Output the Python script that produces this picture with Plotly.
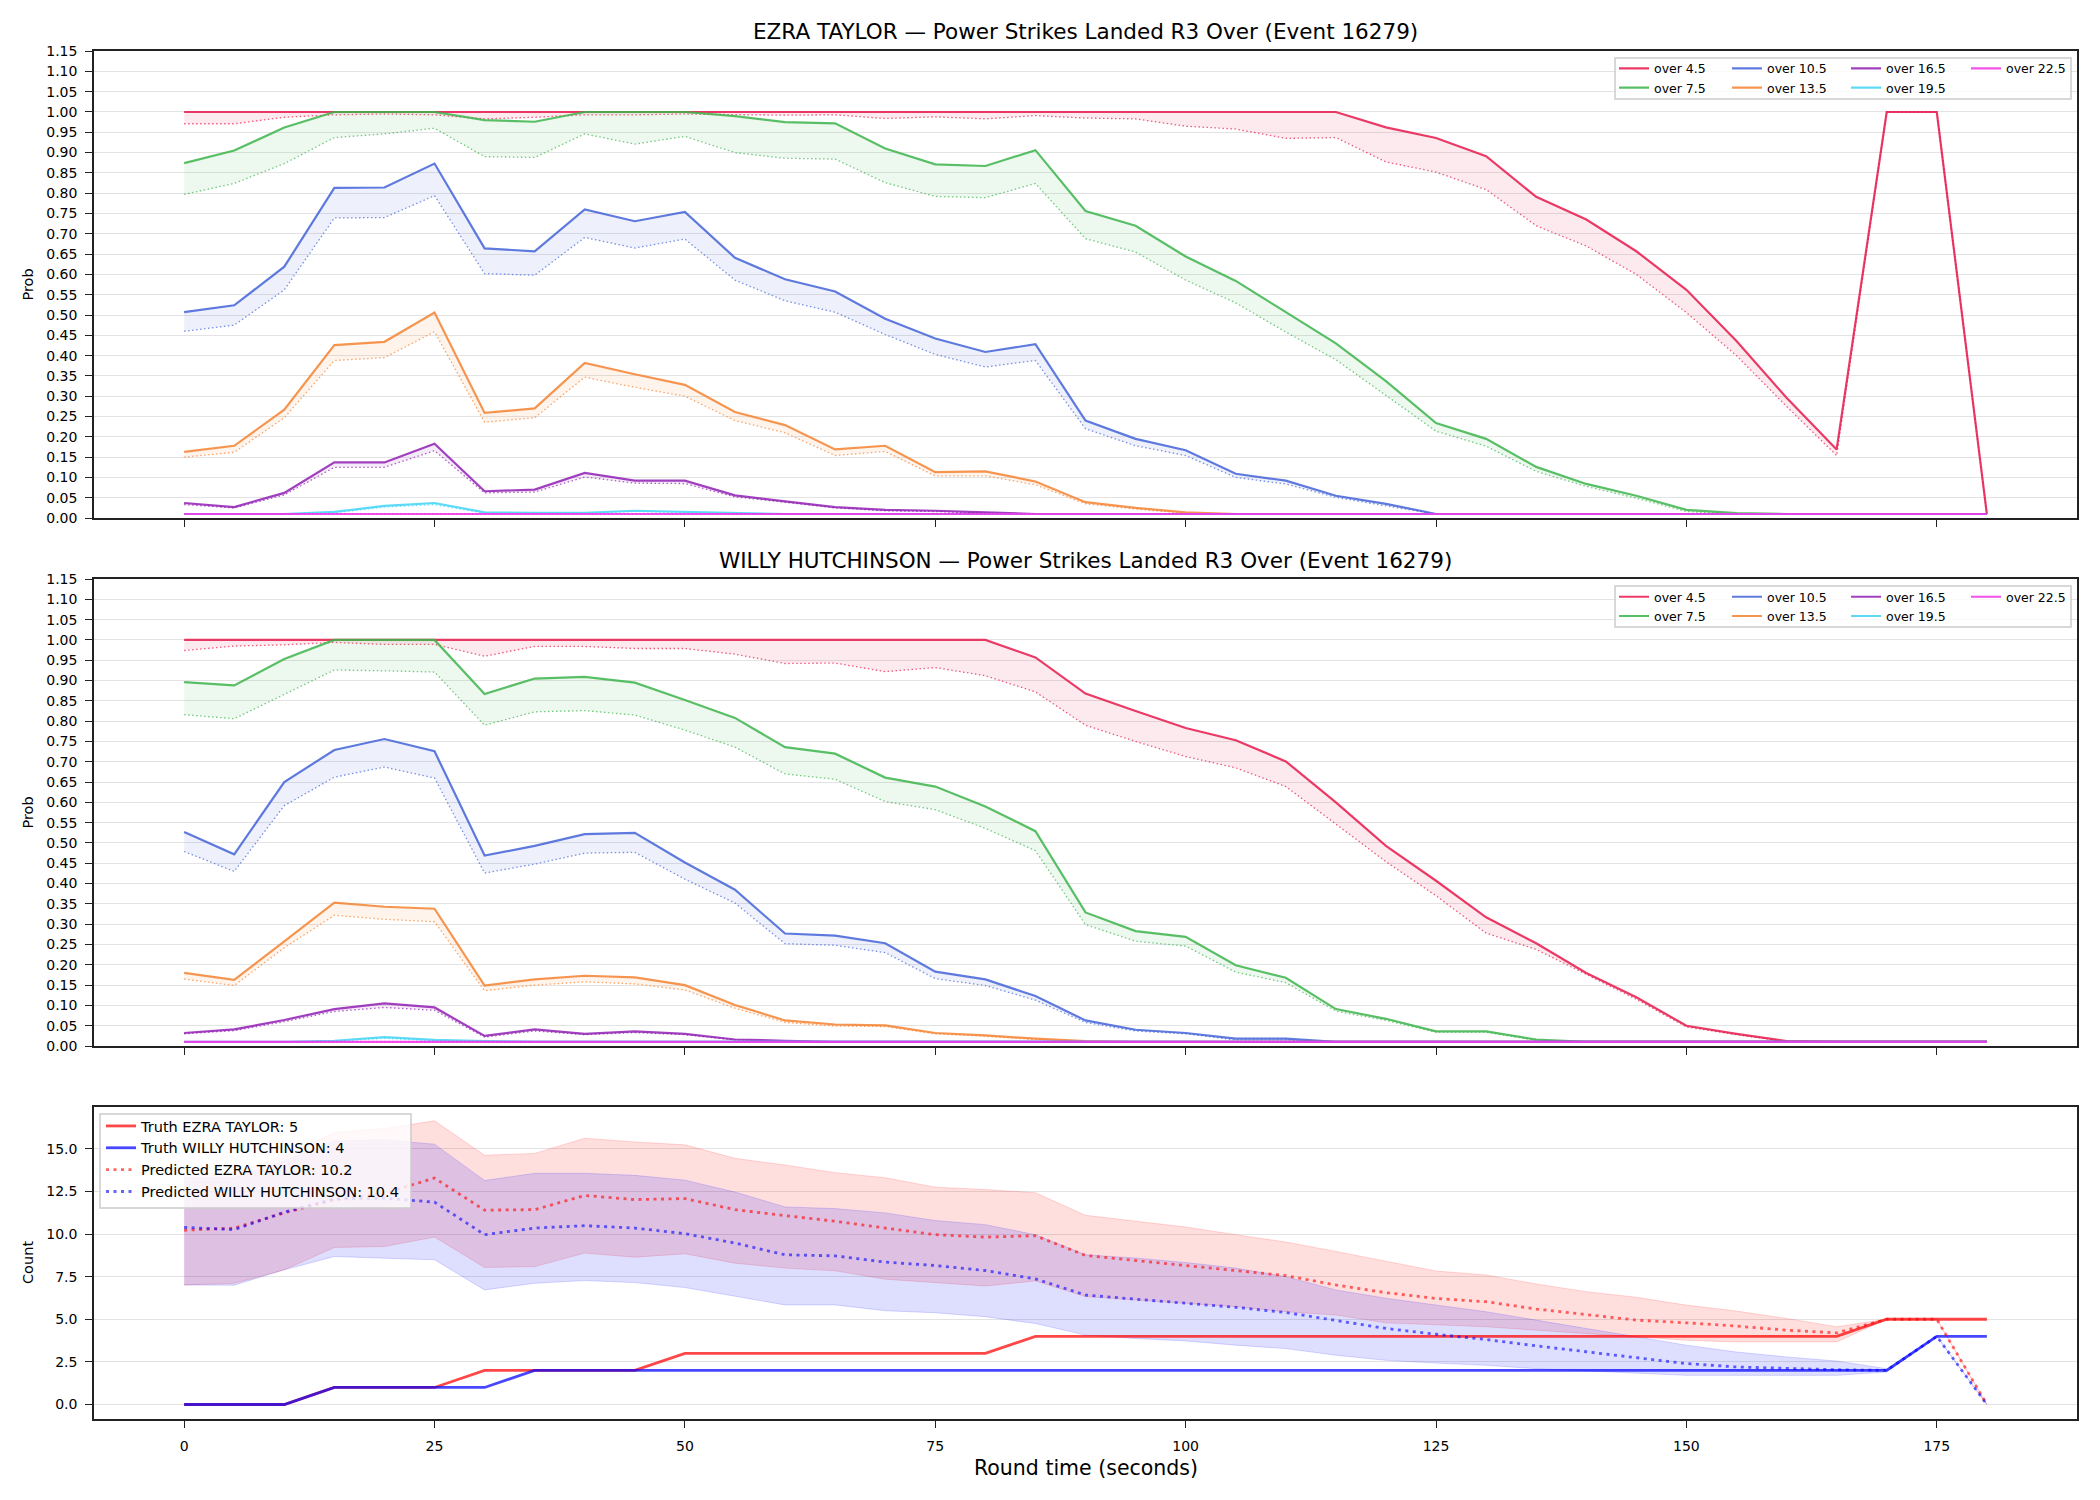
import plotly.graph_objects as go

W, H = 2100, 1500

# ---------------- data ----------------
time_s = [0, 5, 10, 15, 20, 25, 30, 35, 40, 45, 50, 55, 60, 65, 70, 75, 80, 85, 90,
          95, 100, 105, 110, 115, 120, 125, 130, 135, 140, 145, 150, 155, 160, 165,
          170, 175, 180]
x_ticks = [0, 25, 50, 75, 100, 125, 150, 175]
line_names = ["over 4.5", "over 7.5", "over 10.5", "over 13.5", "over 16.5", "over 19.5", "over 22.5"]

# EZRA TAYLOR: solid = model prob, dotted = lower line
ez_o45 = [1.0, 1.0, 1.0, 1.0, 1.0, 1.0, 1.0, 1.0, 1.0, 1.0, 1.0, 1.0, 1.0, 1.0, 1.0, 1.0, 1.0, 1.0, 1.0, 1.0, 1.0, 1.0, 1.0, 1.0,
          0.962, 0.936, 0.891, 0.791, 0.735, 0.657, 0.562, 0.436, 0.296, 0.169, 1.0, 1.0, 0.01]
ez_o45_lo = [0.971, 0.971, 0.987, 0.993, 0.995, 0.993, 0.983, 0.987, 0.993, 0.993, 0.995, 0.993, 0.992, 0.993, 0.984, 0.988,
             0.983, 0.991, 0.985, 0.983, 0.965, 0.958, 0.935, 0.937, 0.877, 0.852, 0.809, 0.72, 0.67, 0.60, 0.506, 0.40,
             0.275, 0.154, 1.0, 1.0, 0.01]
ez_o75 = [0.874, 0.905, 0.962, 1.0, 1.0, 1.0, 0.98, 0.976, 1.0, 1.0, 1.0, 0.99, 0.975, 0.972,
          0.91, 0.871, 0.867, 0.906, 0.756, 0.72, 0.644, 0.584, 0.506, 0.43, 0.337, 0.234, 0.195,
          0.126, 0.084, 0.055, 0.02, 0.012, 0.01, 0.01, 0.01, 0.01, 0.01]
ez_o75_lo = [0.797, 0.824, 0.873, 0.937, 0.946, 0.96, 0.89, 0.888, 0.946, 0.921, 0.94, 0.90, 0.886, 0.884,
             0.826, 0.792, 0.789, 0.824, 0.688, 0.655, 0.586, 0.53, 0.458, 0.39, 0.302, 0.214, 0.177,
             0.115, 0.078, 0.049, 0.016, 0.01, 0.01, 0.01, 0.01, 0.01, 0.01]
ez_o105 = [0.507, 0.524, 0.619, 0.813, 0.814, 0.873, 0.664, 0.657, 0.76, 0.731, 0.754, 0.641, 0.588, 0.558,
           0.491, 0.442, 0.409, 0.428, 0.24, 0.195, 0.167, 0.109, 0.092, 0.055, 0.035, 0.01,
           0.01, 0.01, 0.01, 0.01, 0.01, 0.01, 0.01, 0.01, 0.01, 0.01, 0.01]
ez_o105_lo = [0.46, 0.475, 0.562, 0.739, 0.74, 0.794, 0.602, 0.598, 0.691, 0.665, 0.687, 0.586, 0.535, 0.507,
              0.452, 0.403, 0.372, 0.388, 0.22, 0.178, 0.154, 0.10, 0.084, 0.051, 0.03, 0.01,
              0.01, 0.01, 0.01, 0.01, 0.01, 0.01, 0.01, 0.01, 0.01, 0.01, 0.01]
ez_o135 = [0.163, 0.178, 0.267, 0.426, 0.434, 0.506, 0.259, 0.27, 0.382, 0.354, 0.328, 0.261, 0.229, 0.169,
           0.178, 0.113, 0.115, 0.09, 0.039, 0.025, 0.014,
           0.01, 0.01, 0.01, 0.01, 0.01, 0.01, 0.01, 0.01, 0.01, 0.01, 0.01, 0.01, 0.01, 0.01, 0.01, 0.01]
ez_o135_lo = [0.15, 0.162, 0.247, 0.388, 0.395, 0.459, 0.236, 0.247, 0.347, 0.322, 0.30, 0.24, 0.21, 0.154,
              0.164, 0.104, 0.104, 0.082, 0.035, 0.022, 0.012,
              0.01, 0.01, 0.01, 0.01, 0.01, 0.01, 0.01, 0.01, 0.01, 0.01, 0.01, 0.01, 0.01, 0.01, 0.01, 0.01]
ez_o165 = [0.037, 0.027, 0.062, 0.137, 0.137, 0.183, 0.066, 0.07, 0.111, 0.092, 0.092, 0.056, 0.041, 0.027,
           0.02, 0.018, 0.014,
           0.01, 0.01, 0.01, 0.01, 0.01, 0.01, 0.01, 0.01, 0.01, 0.01, 0.01, 0.01, 0.01, 0.01, 0.01, 0.01,
           0.01, 0.01, 0.01, 0.01]
ez_o165_lo = [0.033, 0.025, 0.057, 0.125, 0.125, 0.166, 0.062, 0.064, 0.101, 0.086, 0.085, 0.052, 0.039, 0.025,
              0.018, 0.016, 0.012,
              0.01, 0.01, 0.01, 0.01, 0.01, 0.01, 0.01, 0.01, 0.01, 0.01, 0.01, 0.01, 0.01, 0.01, 0.01, 0.01,
              0.01, 0.01, 0.01, 0.01]
ez_o195 = [0.01, 0.01, 0.01, 0.015, 0.03, 0.037, 0.014, 0.013, 0.013, 0.018, 0.015, 0.012,
           0.01, 0.01, 0.01, 0.01, 0.01, 0.01, 0.01, 0.01, 0.01, 0.01, 0.01, 0.01, 0.01, 0.01, 0.01, 0.01,
           0.01, 0.01, 0.01, 0.01, 0.01, 0.01, 0.01, 0.01, 0.01]
ez_o195_lo = [0.01, 0.01, 0.01, 0.013, 0.027, 0.033, 0.012, 0.012, 0.012, 0.016, 0.013, 0.011,
              0.01, 0.01, 0.01, 0.01, 0.01, 0.01, 0.01, 0.01, 0.01, 0.01, 0.01, 0.01, 0.01, 0.01, 0.01, 0.01,
              0.01, 0.01, 0.01, 0.01, 0.01, 0.01, 0.01, 0.01, 0.01]
ez_o225 = [0.01, 0.01, 0.01, 0.01, 0.01, 0.01, 0.01, 0.01, 0.01, 0.01, 0.01, 0.01, 0.01, 0.01, 0.01, 0.01,
           0.01, 0.01, 0.01, 0.01, 0.01, 0.01, 0.01, 0.01, 0.01, 0.01, 0.01, 0.01, 0.01, 0.01, 0.01, 0.01,
           0.01, 0.01, 0.01, 0.01, 0.01]
ez_o225_lo = [0.01, 0.01, 0.01, 0.01, 0.01, 0.01, 0.01, 0.01, 0.01, 0.01, 0.01, 0.01, 0.01, 0.01, 0.01, 0.01,
              0.01, 0.01, 0.01, 0.01, 0.01, 0.01, 0.01, 0.01, 0.01, 0.01, 0.01, 0.01, 0.01, 0.01, 0.01, 0.01,
              0.01, 0.01, 0.01, 0.01, 0.01]

# WILLY HUTCHINSON
wh_o45 = [1.0, 1.0, 1.0, 1.0, 1.0, 1.0, 1.0, 1.0, 1.0, 1.0, 1.0, 1.0, 1.0, 1.0, 1.0, 1.0, 1.0,
          0.957, 0.868, 0.825, 0.783, 0.753, 0.701, 0.60, 0.493, 0.407, 0.317,
          0.253, 0.18, 0.12, 0.05, 0.03, 0.012, 0.01, 0.01, 0.01, 0.01]
wh_o45_lo = [0.974, 0.985, 0.988, 0.994, 0.989, 0.989, 0.96, 0.984, 0.984, 0.979, 0.979, 0.965, 0.942, 0.943,
             0.922, 0.932, 0.912, 0.872, 0.79, 0.75, 0.713, 0.685, 0.639, 0.547, 0.454, 0.37, 0.278,
             0.238, 0.176, 0.115, 0.047, 0.028, 0.011, 0.01, 0.01, 0.01, 0.01]
wh_o75 = [0.896, 0.888, 0.953, 1.0, 1.0, 1.0, 0.867, 0.905, 0.909, 0.895, 0.852, 0.808, 0.736, 0.72,
          0.661, 0.639, 0.59, 0.529, 0.329, 0.283, 0.269, 0.199, 0.168, 0.091, 0.067, 0.036, 0.036, 0.016,
          0.01, 0.01, 0.01, 0.01, 0.01, 0.01, 0.01, 0.01, 0.01]
wh_o75_lo = [0.816, 0.806, 0.866, 0.926, 0.924, 0.921, 0.79, 0.823, 0.826, 0.815, 0.778, 0.736, 0.67, 0.657,
             0.602, 0.582, 0.536, 0.481, 0.299, 0.258, 0.246, 0.182, 0.156, 0.086, 0.063, 0.034, 0.034, 0.014,
             0.01, 0.01, 0.01, 0.01, 0.01, 0.01, 0.01, 0.01, 0.01]
wh_o105 = [0.527, 0.472, 0.65, 0.729, 0.756, 0.726, 0.469, 0.493, 0.522, 0.525, 0.452, 0.385, 0.277, 0.272,
           0.253, 0.183, 0.164, 0.123, 0.063, 0.04, 0.032, 0.018, 0.018,
           0.01, 0.01, 0.01, 0.01, 0.01, 0.01, 0.01, 0.01, 0.01, 0.01, 0.01, 0.01, 0.01, 0.01]
wh_o105_lo = [0.479, 0.43, 0.592, 0.662, 0.687, 0.66, 0.426, 0.448, 0.475, 0.477, 0.411, 0.352, 0.252, 0.248,
              0.23, 0.166, 0.149, 0.113, 0.058, 0.037, 0.03, 0.015, 0.015,
              0.01, 0.01, 0.01, 0.01, 0.01, 0.01, 0.01, 0.01, 0.01, 0.01, 0.01, 0.01, 0.01, 0.01]
wh_o135 = [0.18, 0.163, 0.258, 0.353, 0.343, 0.338, 0.149, 0.164, 0.173, 0.169, 0.15, 0.101, 0.063, 0.053,
           0.051, 0.032, 0.026, 0.018, 0.012,
           0.01, 0.01, 0.01, 0.01, 0.01, 0.01, 0.01, 0.01, 0.01, 0.01, 0.01, 0.01, 0.01, 0.01, 0.01, 0.01,
           0.01, 0.01]
wh_o135_lo = [0.165, 0.149, 0.242, 0.322, 0.312, 0.306, 0.136, 0.15, 0.158, 0.153, 0.138, 0.093, 0.058, 0.049,
              0.048, 0.03, 0.024, 0.016, 0.011,
              0.01, 0.01, 0.01, 0.01, 0.01, 0.01, 0.01, 0.01, 0.01, 0.01, 0.01, 0.01, 0.01, 0.01, 0.01, 0.01,
              0.01, 0.01]
wh_o165 = [0.032, 0.041, 0.064, 0.091, 0.105, 0.095, 0.025, 0.041, 0.03, 0.036, 0.03, 0.016, 0.013,
           0.01, 0.01, 0.01, 0.01, 0.01, 0.01, 0.01, 0.01, 0.01, 0.01, 0.01, 0.01, 0.01, 0.01, 0.01, 0.01,
           0.01, 0.01, 0.01, 0.01, 0.01, 0.01, 0.01, 0.01]
wh_o165_lo = [0.03, 0.038, 0.06, 0.085, 0.095, 0.088, 0.022, 0.037, 0.028, 0.033, 0.028, 0.015, 0.012,
              0.01, 0.01, 0.01, 0.01, 0.01, 0.01, 0.01, 0.01, 0.01, 0.01, 0.01, 0.01, 0.01, 0.01, 0.01, 0.01,
              0.01, 0.01, 0.01, 0.01, 0.01, 0.01, 0.01, 0.01]
wh_o195 = [0.01, 0.01, 0.01, 0.013, 0.022, 0.015, 0.012, 0.011, 0.011, 0.011, 0.011,
           0.01, 0.01, 0.01, 0.01, 0.01, 0.01, 0.01, 0.01, 0.01, 0.01, 0.01, 0.01, 0.01, 0.01, 0.01, 0.01,
           0.01, 0.01, 0.01, 0.01, 0.01, 0.01, 0.01, 0.01, 0.01, 0.01]
wh_o195_lo = [0.01, 0.01, 0.01, 0.012, 0.019, 0.013, 0.011, 0.01, 0.01, 0.01, 0.01,
              0.01, 0.01, 0.01, 0.01, 0.01, 0.01, 0.01, 0.01, 0.01, 0.01, 0.01, 0.01, 0.01, 0.01, 0.01, 0.01,
              0.01, 0.01, 0.01, 0.01, 0.01, 0.01, 0.01, 0.01, 0.01, 0.01]
wh_o225 = [0.01, 0.01, 0.01, 0.01, 0.01, 0.01, 0.01, 0.01, 0.01, 0.01, 0.01, 0.01, 0.01, 0.01, 0.01, 0.01,
           0.01, 0.01, 0.01, 0.01, 0.01, 0.01, 0.01, 0.01, 0.01, 0.01, 0.01, 0.01, 0.01, 0.01, 0.01, 0.01,
           0.01, 0.01, 0.01, 0.01, 0.01]
wh_o225_lo = [0.01, 0.01, 0.01, 0.01, 0.01, 0.01, 0.01, 0.01, 0.01, 0.01, 0.01, 0.01, 0.01, 0.01, 0.01, 0.01,
              0.01, 0.01, 0.01, 0.01, 0.01, 0.01, 0.01, 0.01, 0.01, 0.01, 0.01, 0.01, 0.01, 0.01, 0.01, 0.01,
              0.01, 0.01, 0.01, 0.01, 0.01]

# Count panel
truth_ez = [0, 0, 0, 1, 1, 1, 2, 2, 2, 2, 3, 3, 3, 3, 3, 3, 3,
            4, 4, 4, 4, 4, 4, 4, 4, 4, 4, 4, 4, 4, 4, 4, 4, 4, 5, 5, 5]
truth_wh = [0, 0, 0, 1, 1, 1, 1, 2, 2, 2, 2, 2, 2, 2, 2, 2, 2, 2, 2, 2, 2, 2, 2, 2, 2, 2, 2, 2, 2, 2, 2, 2, 2, 2, 2,
            4, 4]
pred_ez = [10.22, 10.35, 11.24, 12.0, 12.4, 13.28, 11.4, 11.43, 12.26, 12.02, 12.08, 11.43, 11.08,
           10.75, 10.35, 9.96, 9.82, 9.9, 8.74, 8.45, 8.15, 7.86, 7.56, 7.01, 6.56, 6.22,
           6.03, 5.6, 5.28, 4.95, 4.79, 4.6, 4.36, 4.2, 5.0, 5.0, 0.0]
pred_wh = [10.39, 10.26, 11.28, 12.06, 12.1, 11.87, 9.96, 10.35, 10.49, 10.35, 10.02, 9.47, 8.78,
           8.72, 8.35, 8.15, 7.86, 7.37, 6.42, 6.17, 5.93, 5.7, 5.4, 4.95, 4.46, 4.12,
           3.81, 3.44, 3.08, 2.73, 2.4, 2.2, 2.1, 2.04, 2.0, 4.0, 0.0]
band_ez_hi = [13.5, 13.6, 14.6, 15.95, 16.19, 16.64, 14.62, 14.73, 15.62, 15.4, 15.23, 14.44, 14.05,
              13.6, 13.3, 12.75, 12.61, 12.42, 11.1, 10.75, 10.41, 9.96, 9.53, 8.98, 8.39, 7.83,
              7.6, 7.07, 6.62, 6.29, 5.83, 5.48, 5.05, 4.56, 5.0, 5.0, 0.0]
band_ez_lo = [7.01, 7.11, 7.9, 9.21, 9.27, 9.82, 8.04, 8.09, 8.88, 8.64, 8.84, 8.29, 8.0,
              7.84, 7.35, 7.17, 6.95, 7.25, 6.33, 6.13, 5.93, 5.74, 5.44, 5.25, 4.79, 4.68,
              4.56, 4.36, 4.17, 3.97, 3.77, 3.67, 3.67, 3.67, 5.0, 5.0, 0.0]
band_wh_hi = [13.3, 13.3, 14.3, 15.46, 15.52, 15.27, 13.14, 13.56, 13.56, 13.44, 13.16, 12.46, 11.59,
              11.49, 11.24, 10.79, 10.55, 9.96, 8.78, 8.59, 8.33, 8.0, 7.5, 6.72, 6.23, 5.82,
              5.44, 4.95, 4.46, 3.97, 3.48, 3.08, 2.79, 2.55, 2.1, 4.0, 0.0]
band_wh_lo = [7.01, 7.0, 7.9, 8.68, 8.58, 8.49, 6.72, 7.11, 7.27, 7.15, 6.86, 6.33, 5.84,
              5.84, 5.5, 5.38, 5.15, 4.75, 4.07, 3.87, 3.73, 3.48, 3.28, 2.89, 2.59, 2.43,
              2.3, 2.1, 1.96, 1.85, 1.71, 1.71, 1.71, 1.71, 1.9, 4.0, 0.0]

truth_ez_label = "Truth EZRA TAYLOR: 5"
truth_wh_label = "Truth WILLY HUTCHINSON: 4"
pred_ez_label = "Predicted EZRA TAYLOR: 10.2"
pred_wh_label = "Predicted WILLY HUTCHINSON: 10.4"
title1 = "EZRA TAYLOR \u2014 Power Strikes Landed R3 Over (Event 16279)"
title2 = "WILLY HUTCHINSON \u2014 Power Strikes Landed R3 Over (Event 16279)"

# ---------------- style ----------------
FONT = "DejaVu Sans"
RGB = [(230, 25, 75), (60, 180, 75), (67, 99, 216), (245, 130, 49), (145, 30, 180), (66, 212, 244), (240, 50, 230)]


def rgba(c, a):
    return "rgba(%d,%d,%d,%.3f)" % (c[0], c[1], c[2], a)


def px(xp):
    return xp / W


def py(yp):
    # vertical placement helper (pixel from top -> paper fraction), with a small
    # correction for the page offset seen in the rendered screenshot
    yc = yp / 0.9894 - 8
    return 1 - yc / H


X_DOM = [px(94), px(2077)]
Y1_DOM = [py(518), py(51)]
Y2_DOM = [py(1046), py(579)]
Y3_DOM = [py(1419), py(1107)]

fig = go.Figure()

ez_series = [(ez_o45, ez_o45_lo), (ez_o75, ez_o75_lo), (ez_o105, ez_o105_lo), (ez_o135, ez_o135_lo),
             (ez_o165, ez_o165_lo), (ez_o195, ez_o195_lo), (ez_o225, ez_o225_lo)]
wh_series = [(wh_o45, wh_o45_lo), (wh_o75, wh_o75_lo), (wh_o105, wh_o105_lo), (wh_o135, wh_o135_lo),
             (wh_o165, wh_o165_lo), (wh_o195, wh_o195_lo), (wh_o225, wh_o225_lo)]

col_of = [0, 0, 1, 1, 2, 2, 3]


def leg_name(n):
    return "legend" if n == 1 else "legend%d" % n


def add_prob_panel(series, xa, ya, legend_base):
    for i, (hi, lo) in enumerate(series):
        c = RGB[i]
        lg = leg_name(legend_base + col_of[i])
        fig.add_trace(go.Scatter(x=time_s, y=lo, mode="lines", xaxis=xa, yaxis=ya,
                                 line=dict(color=rgba(c, 0.7), width=1.3, dash="1.5px,2.5px"),
                                 showlegend=False, hoverinfo="skip"))
        fig.add_trace(go.Scatter(x=time_s, y=hi, mode="lines", xaxis=xa, yaxis=ya,
                                 line=dict(color="rgba(0,0,0,0)", width=0),
                                 fill="tonexty", fillcolor=rgba(c, 0.09),
                                 showlegend=False, hoverinfo="skip"))
        fig.add_trace(go.Scatter(x=time_s, y=hi, mode="lines", xaxis=xa, yaxis=ya,
                                 line=dict(color=rgba(c, 0.85), width=2.2),
                                 name=line_names[i], legend=lg, legendrank=i + 1))


add_prob_panel(ez_series, "x", "y", 1)
add_prob_panel(wh_series, "x2", "y2", 5)

RED = (255, 0, 0)
BLUE = (0, 0, 255)
# bands
fig.add_trace(go.Scatter(x=time_s, y=band_ez_lo, mode="lines", xaxis="x3", yaxis="y3",
                         line=dict(color=rgba(RED, 0.15), width=1), showlegend=False, hoverinfo="skip"))
fig.add_trace(go.Scatter(x=time_s, y=band_ez_hi, mode="lines", xaxis="x3", yaxis="y3",
                         line=dict(color=rgba(RED, 0.15), width=1), fill="tonexty",
                         fillcolor=rgba(RED, 0.13), showlegend=False, hoverinfo="skip"))
fig.add_trace(go.Scatter(x=time_s, y=band_wh_lo, mode="lines", xaxis="x3", yaxis="y3",
                         line=dict(color=rgba(BLUE, 0.15), width=1), showlegend=False, hoverinfo="skip"))
fig.add_trace(go.Scatter(x=time_s, y=band_wh_hi, mode="lines", xaxis="x3", yaxis="y3",
                         line=dict(color=rgba(BLUE, 0.15), width=1), fill="tonexty",
                         fillcolor=rgba(BLUE, 0.13), showlegend=False, hoverinfo="skip"))
fig.add_trace(go.Scatter(x=time_s, y=truth_ez, mode="lines", xaxis="x3", yaxis="y3",
                         line=dict(color=rgba(RED, 0.72), width=2.8), name=truth_ez_label, legend="legend9",
                         legendrank=1))
fig.add_trace(go.Scatter(x=time_s, y=truth_wh, mode="lines", xaxis="x3", yaxis="y3",
                         line=dict(color=rgba(BLUE, 0.72), width=2.8), name=truth_wh_label, legend="legend9",
                         legendrank=2))
fig.add_trace(go.Scatter(x=time_s, y=pred_ez, mode="lines", xaxis="x3", yaxis="y3",
                         line=dict(color=rgba(RED, 0.6), width=2.8, dash="3px,4.5px"),
                         name=pred_ez_label, legend="legend9", legendrank=3))
fig.add_trace(go.Scatter(x=time_s, y=pred_wh, mode="lines", xaxis="x3", yaxis="y3",
                         line=dict(color=rgba(BLUE, 0.6), width=2.8, dash="3px,4.5px"),
                         name=pred_wh_label, legend="legend9", legendrank=4))

# ---------------- axes ----------------
tickfont = dict(family=FONT, size=14, color="black")
xcommon = dict(range=[-9, 189], domain=X_DOM, showline=True, linecolor="#222", linewidth=1.6, mirror=True,
               ticks="outside", ticklen=7, tickwidth=1.3, tickcolor="#222", tickvals=x_ticks,
               showgrid=False, zeroline=False, tickfont=tickfont, ticklabelstandoff=6)
ycommon = dict(showline=True, linecolor="#222", linewidth=1.6, mirror=True, ticks="outside", ticklen=7,
               tickwidth=1.3, tickcolor="#222", showgrid=True, gridcolor="#e3e3e3", gridwidth=1,
               zeroline=False, tickfont=tickfont, tickmode="linear", tick0=0, ticklabelstandoff=5)

layout = dict(
    width=W, height=H, margin=dict(l=0, r=0, t=0, b=0),
    paper_bgcolor="white", plot_bgcolor="white",
    font=dict(family=FONT, color="black"),
    xaxis=dict(xcommon, anchor="y", showticklabels=False),
    xaxis2=dict(xcommon, anchor="y2", showticklabels=False, matches="x"),
    xaxis3=dict(xcommon, anchor="y3", showticklabels=True, matches="x"),
    yaxis=dict(ycommon, domain=Y1_DOM, anchor="x", range=[0, 1.15], dtick=0.05, tickformat=".2f"),
    yaxis2=dict(ycommon, domain=Y2_DOM, anchor="x2", range=[0, 1.15], dtick=0.05, tickformat=".2f"),
    yaxis3=dict(ycommon, domain=Y3_DOM, anchor="x3", range=[-0.85, 17.45], dtick=2.5, tickformat=".1f"),
)


def small_leg(x_line_start, row1_center):
    return dict(x=px(x_line_start - 5), y=py(row1_center - 14.6), xanchor="left", yanchor="top",
                bgcolor="rgba(0,0,0,0)", borderwidth=0, orientation="v", traceorder="normal",
                font=dict(family=FONT, size=12.5, color="black"))


col_x = [1619, 1732, 1851, 1971]
for k in range(4):
    layout[leg_name(k + 1)] = small_leg(col_x[k], 68.3)
    layout[leg_name(k + 5)] = small_leg(col_x[k], 596.7)

# count-panel legend: entries only, frame drawn as a shape below
layout["legend9"] = dict(x=px(101), y=py(1126 - 16), xanchor="left", yanchor="top",
                         bgcolor="rgba(0,0,0,0)", borderwidth=0,
                         orientation="v", traceorder="normal",
                         font=dict(family=FONT, size=14.5, color="black"))

fig.update_layout(**layout)

# legend frames
for (x0, x1, y0, y1) in [(1615, 2071, 58, 99), (1615, 2071, 586, 627), (100, 411, 1114, 1208)]:
    fig.add_shape(type="rect", xref="paper", yref="paper", x0=px(x0), x1=px(x1), y0=py(y1), y1=py(y0),
                  line=dict(color="#cccccc", width=1.5), fillcolor="rgba(255,255,255,0.8)", layer="above")

# titles and axis labels
cx = (94 + 2077) / 2
ann = [
    dict(text=title1, x=px(cx), y=py(31), font=dict(size=21.5, family=FONT, color="black")),
    dict(text=title2, x=px(cx), y=py(560), font=dict(size=21.5, family=FONT, color="black")),
    dict(text="Prob", x=px(28), y=py(284.5), textangle=-90, font=dict(size=14.5, family=FONT, color="black")),
    dict(text="Prob", x=px(28), y=py(812.5), textangle=-90, font=dict(size=14.5, family=FONT, color="black")),
    dict(text="Count", x=px(28), y=py(1263), textangle=-90, font=dict(size=14.5, family=FONT, color="black")),
    dict(text="Round time (seconds)", x=px(cx), y=py(1468), font=dict(size=20.5, family=FONT, color="black")),
]
for a in ann:
    fig.add_annotation(xref="paper", yref="paper", xanchor="center", yanchor="middle", showarrow=False, **a)

fig.write_html("out.html")
